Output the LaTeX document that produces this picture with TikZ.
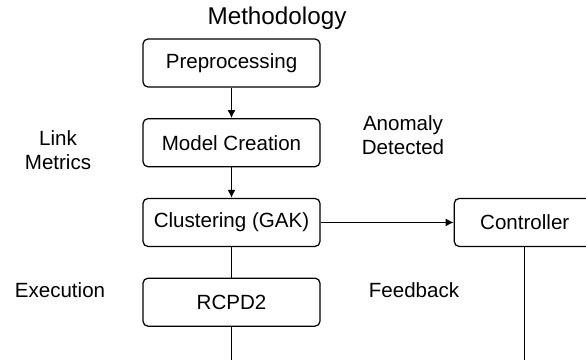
\documentclass[tikz,border=0pt]{standalone}
\usepackage{fontspec}
\setmainfont{Liberation Sans}
\usetikzlibrary{arrows.meta, positioning}
\tikzset{>={Latex[length=1.6mm, width=1.6mm]}}
\tikzset{
  stagebox/.style={draw, rounded corners=0.1cm, line width=0.7pt,
    minimum width=3.54cm, minimum height=0.96cm, inner sep=0pt,
    font=\fontsize{11.7}{13.5}\selectfont},
  sidelabel/.style={align=center, inner sep=0pt, font=\fontsize{11.7}{13.5}\selectfont},
  flow/.style={line width=0.7pt}
}

\begin{document}
\begin{tikzpicture}[node distance=0.61cm]

    \path[use as bounding box] (0, 0) rectangle (11.72, 7.2);
    \clip (0, 0) rectangle (11.72, 7.2);

    \node[stagebox] (pre) at (4.63, 5.94) {Preprocessing};
    \node[stagebox, below=of pre] (model) {Model Creation};
    \node[stagebox, below=of model] (clust) {Clustering (GAK)};
    \node[stagebox, below=of clust] (rcpd) {RCPD2};
    \node[stagebox, minimum width=2.82cm, right=2.66cm of clust] (ctrl) {Controller};

    \node[sidelabel, anchor=base, font=\fontsize{13.8}{16}\selectfont] (title)
        at (5.54, 6.7) {Methodology};
    \node[sidelabel] (link) at (1.16, 4.2) {Link\\Metrics};
    \node[sidelabel] (anom) at (8.06, 4.49) {Anomaly\\Detected};
    \node[sidelabel] (exec) at (1.2, 1.4) {Execution};
    \node[sidelabel] (feed) at (8.28, 1.4) {Feedback};

    \draw[flow, ->] (pre) -- (model);
    \draw[flow, ->] (model) -- (clust);
    \draw[flow] (clust) -- (rcpd);
    \draw[flow, ->] (clust) -- (ctrl);
    \draw[flow] (rcpd.south) -- ++(0, -1.5) -| (ctrl.south);

\end{tikzpicture}
\end{document}
